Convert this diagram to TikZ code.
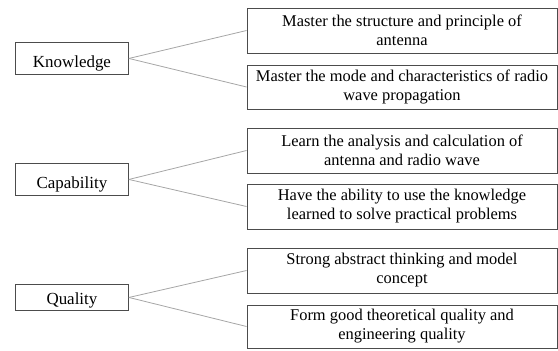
\documentclass[tikz,border=0pt]{standalone}
\usepackage{fontspec}
\setmainfont{Liberation Serif}
\begin{document}
\begin{tikzpicture}[x=1bp,y=-1bp,
  leftbox/.style={draw=black!70, line width=0.9bp, inner sep=0pt, minimum width=113bp,
    font=\fontsize{17}{19}\selectfont, anchor=north west},
  rightbox/.style={draw=black!70, line width=0.9bp, inner sep=0pt, minimum width=310bp,
    align=center, font=\fontsize{16.5}{19}\selectfont},
  link/.style={draw=black!35, line width=0.8bp}]
\useasboundingbox (0,0) rectangle (558,350);
% left boxes
\node[leftbox, text height=25bp, text depth=7bp] (know) at (15,42) {Knowledge};
\node[leftbox, text height=25bp, text depth=7bp] (cap) at (15,163) {Capability};
\node[leftbox, text height=20bp, text depth=6bp] (qual) at (15,284) {Quality};
% right boxes
\node[rightbox, minimum height=45bp] (r1) at (402,30.5) {Master the structure and principle of\\antenna};
\node[rightbox, minimum height=44bp] (r2) at (402,87) {Master the mode and characteristics of radio\\wave propagation};
\node[rightbox, minimum height=45bp] (r3) at (402,150.5) {Learn the analysis and calculation of\\antenna and radio wave};
\node[rightbox, minimum height=45bp] (r4) at (402,206.5) {Have the ability to use the knowledge\\learned to solve practical problems};
\node[rightbox, minimum height=45bp] (r5) at (402,270.5) {Strong abstract thinking and model\\concept};
\node[rightbox, minimum height=43bp] (r6) at (402,326.5) {Form good theoretical quality and\\engineering quality};
% links
\draw[link] (know.east) -- (r1.west);
\draw[link] (know.east) -- (r2.west);
\draw[link] (cap.east) -- (r3.west);
\draw[link] (cap.east) -- (r4.west);
\draw[link] (qual.east) -- (r5.west);
\draw[link] (qual.east) -- (r6.west);
\end{tikzpicture}
\end{document}
